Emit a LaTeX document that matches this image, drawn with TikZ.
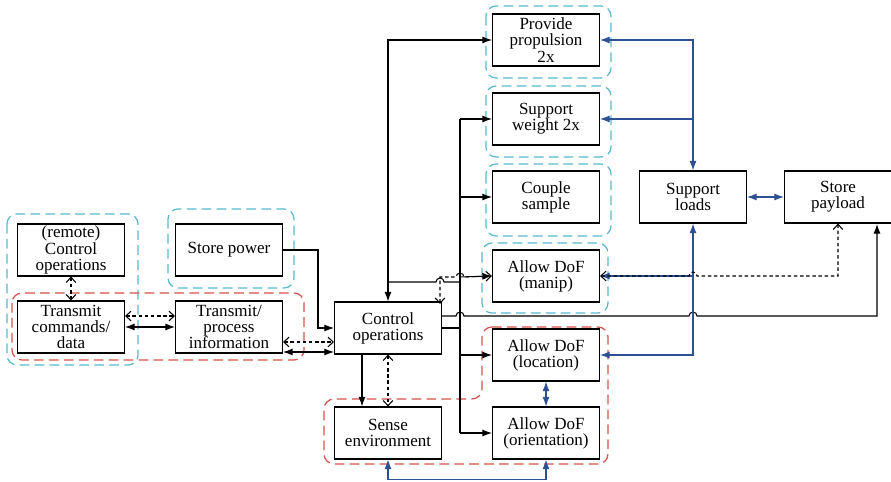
\documentclass[tikz,border=0pt]{standalone}
\usepackage{fontspec}
\setmainfont{Liberation Serif}
\usetikzlibrary{arrows.meta}
\definecolor{grpcyan}{RGB}{88,184,208}
\definecolor{grpred}{RGB}{212,82,74}
\definecolor{ldblue}{RGB}{44,80,145}
\tikzset{
  fbox/.style={draw, line width=0.6pt, minimum width=2.14cm, minimum height=1.04cm,
    inner sep=1pt, align=center, font=\fontsize{9.7}{9.2}\selectfont},
  flow/.style={line width=0.6pt, -{Latex[length=5.5pt,width=4pt]}},
  flow2/.style={line width=0.6pt, {Latex[length=5.5pt,width=4pt]}-{Latex[length=5.5pt,width=4pt]}},
  sig/.style={line width=0.6pt, dash pattern=on 2pt off 1.5pt,
    {Straight Barb[length=3pt,width=5.5pt]}-{Straight Barb[length=3pt,width=5.5pt]}},
  ld/.style={ldblue, line width=0.6pt, -{Latex[length=5.5pt,width=4pt]}},
  ld2/.style={ldblue, line width=0.6pt, {Latex[length=5.5pt,width=4pt]}-{Latex[length=5.5pt,width=4pt]}},
  cgrp/.style={grpcyan, line width=0.7pt, dash pattern=on 5.5pt off 3pt, rounded corners=2mm},
  rgrp/.style={grpred, line width=0.7pt, dash pattern=on 5.5pt off 3pt, rounded corners=2mm},
}
\begin{document}
\begin{tikzpicture}[x=0.02cm,y=-0.02cm]
\useasboundingbox (0,0) rectangle (891,482);
% groups
\draw[cgrp] (7,214) rectangle (138,365);
\draw[cgrp] (168,209) rectangle (294,288);
\draw[cgrp] (486,6) rectangle (611,78);
\draw[cgrp] (486,86) rectangle (611,157);
\draw[cgrp] (486,164) rectangle (611,236);
\draw[cgrp] (482,243) rectangle (608,313);
\draw[rgrp] (12,293) rectangle (304,360);
\draw[rgrp] (482,327) -- (608,327) -- (608,464) -- (324,464) -- (324,399) -- (482,399) -- cycle;
% functions
\node[fbox] (rctl) at (71,250){(remote)\\Control\\operations};
\node[fbox] (txcmd) at (71,327){Transmit\\commands/\\data};
\node[fbox] (stpow) at (229,250){Store power};
\node[fbox] (txinf) at (229,327){Transmit/\\process\\information};
\node[fbox] (ctl) at (388,328){Control\\operations};
\node[fbox] (sense) at (388,433){Sense\\environment};
\node[fbox] (prop) at (546,40){Provide\\propulsion\\2x};
\node[fbox] (wgt) at (546,119){Support\\weight 2x};
\node[fbox] (cpl) at (546,197){Couple\\sample};
\node[fbox] (manip) at (546,276){Allow DoF\\(manip)};
\node[fbox] (loc) at (546,355){Allow DoF\\(location)};
\node[fbox] (ori) at (546,433){Allow DoF\\(orientation)};
\node[fbox] (sload) at (693,197){Support\\loads};
\node[fbox] (spay) at (838,197){Store\\payload};
% left side
\draw[sig] (rctl.south) -- (txcmd.north);
\draw[sig] (txcmd.east |- 0,316) -- (txinf.west |- 0,316);
\draw[flow2] (txcmd.east) -- (txinf.west);
\draw[sig] (txinf.east |- 0,342) -- (ctl.west |- 0,342);
\draw[flow2] (txinf.east |- 0,352) -- (ctl.west |- 0,352);
\draw[flow] (stpow.east) -- (318,250) |- (ctl.west);
% control
\draw[flow2] (ctl.north) |- (prop.west);
\draw[line width=0.6pt] (ctl.north |- 0,282) -- (436,282) arc[start angle=180,end angle=360,radius=4] -- (460,282);
\draw[line width=1.2pt] (ctl.east) -- (460,328);
\draw[line width=0.6pt] (460,119) -- (460,433);
\draw[flow] (460,119) -- (wgt.west);
\draw[flow] (460,197) -- (cpl.west);
\draw[flow] (460,277) -- (manip.west);
\draw[flow] (460,355) -- (loc.west);
\draw[flow] (460,433) -- (ori.west);
\draw[sig] (440,304) -- (440,277) -- (456,277) arc[start angle=180,end angle=360,radius=4] -- (manip.west);
\draw[flow] (ctl.south -| 362,0) -- (sense.north -| 362,0);
\draw[sig] (ctl.south) -- (sense.north);
\draw[flow] (ctl.east |- 0,316) -- (456,316) arc[start angle=180,end angle=360,radius=4]
  -- (689,316) arc[start angle=180,end angle=360,radius=4] -- (877,316) -- (877,224);
% loads
\draw[ld2] (prop.east) -| (sload.north);
\draw[ld] (sload.north |- wgt.east) -- (wgt.east);
\draw[ld2] (loc.east) -| (sload.south);
\draw[ld] (sload.south |- manip.east) -- (manip.east);
\draw[sig] (manip.east) -- (689,276) arc[start angle=180,end angle=360,radius=4] -- (838,276) -- (spay.south);
\draw[ld2] (sload.east) -- (spay.west);
\draw[ld2] (loc.south) -- (ori.north);
\draw[ld2] (sense.south) -- ++(0,20) -| (ori.south);
\end{tikzpicture}
\end{document}
